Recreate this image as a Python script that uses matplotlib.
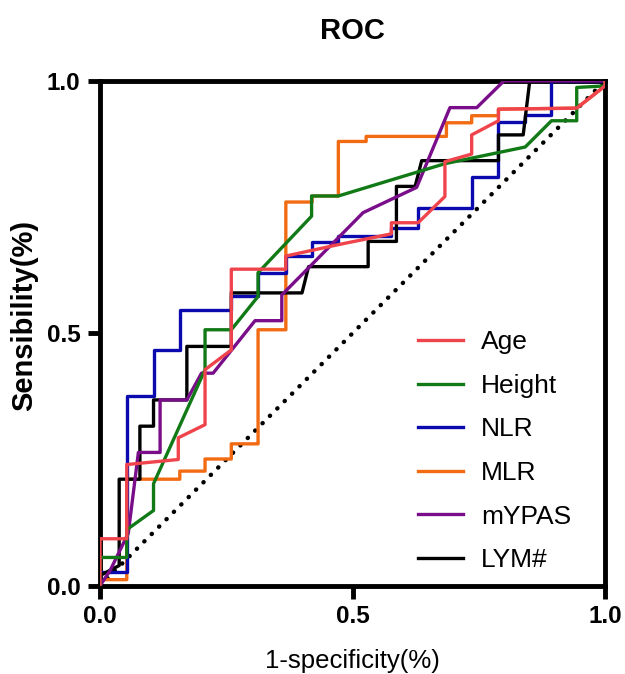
import matplotlib
matplotlib.use("Agg")
import matplotlib.pyplot as plt

plt.rcParams['font.family'] = ['Liberation Sans', 'DejaVu Sans']

# ROC curves (x = 1-specificity, y = sensibility)
age_x = [0, 0, 0.053, 0.053, 0.155, 0.155, 0.208, 0.208, 0.26, 0.26, 0.368, 0.368, 0.469, 0.577, 0.577, 0.63, 0.683, 0.683, 0.736, 0.736, 0.789, 0.789, 0.944, 1.0, 1.0]
age_y = [0, 0.093, 0.093, 0.24, 0.25, 0.293, 0.319, 0.428, 0.467, 0.627, 0.627, 0.653, 0.675, 0.697, 0.719, 0.719, 0.771, 0.84, 0.855, 0.893, 0.921, 0.944, 0.946, 0.99, 1.0]

height_x = [0, 0, 0.053, 0.053, 0.106, 0.106, 0.208, 0.208, 0.26, 0.313, 0.313, 0.419, 0.419, 0.472, 0.683, 0.842, 0.894, 0.944, 0.944, 1.0, 1.0]
height_y = [0, 0.056, 0.056, 0.111, 0.149, 0.202, 0.428, 0.507, 0.507, 0.573, 0.62, 0.732, 0.772, 0.772, 0.836, 0.869, 0.921, 0.921, 0.987, 0.99, 1.0]

nlr_x = [0, 0, 0.053, 0.053, 0.106, 0.106, 0.158, 0.158, 0.26, 0.26, 0.313, 0.313, 0.368, 0.368, 0.42, 0.42, 0.472, 0.472, 0.577, 0.577, 0.63, 0.63, 0.736, 0.736, 0.789, 0.789, 0.842, 0.842, 0.894, 0.894, 1.0]
nlr_y = [0, 0.028, 0.028, 0.375, 0.375, 0.467, 0.467, 0.547, 0.547, 0.574, 0.574, 0.62, 0.62, 0.653, 0.653, 0.68, 0.68, 0.692, 0.692, 0.708, 0.708, 0.748, 0.748, 0.81, 0.81, 0.919, 0.919, 0.933, 0.933, 1.0, 1.0]

mlr_x = [0, 0, 0.053, 0.053, 0.158, 0.158, 0.208, 0.208, 0.26, 0.26, 0.313, 0.313, 0.368, 0.368, 0.42, 0.42, 0.472, 0.472, 0.527, 0.527, 0.686, 0.686, 0.736, 0.736, 0.789, 0.789, 0.944, 1.0, 1.0]
mlr_y = [0, 0.012, 0.012, 0.211, 0.211, 0.227, 0.227, 0.251, 0.251, 0.281, 0.281, 0.507, 0.507, 0.76, 0.76, 0.772, 0.772, 0.88, 0.88, 0.89, 0.89, 0.917, 0.917, 0.931, 0.931, 0.944, 0.946, 0.99, 1.0]

mypas_x = [0, 0.02, 0.056, 0.076, 0.119, 0.119, 0.172, 0.201, 0.224, 0.307, 0.36, 0.36, 0.521, 0.627, 0.693, 0.746, 0.8, 1.0]
mypas_y = [0, 0.03, 0.104, 0.264, 0.264, 0.368, 0.368, 0.421, 0.421, 0.525, 0.525, 0.576, 0.739, 0.789, 0.947, 0.947, 1.0, 1.0]

lym_x = [0, 0, 0.038, 0.038, 0.079, 0.079, 0.106, 0.106, 0.172, 0.172, 0.26, 0.26, 0.40, 0.413, 0.531, 0.531, 0.587, 0.587, 0.624, 0.637, 0.789, 0.789, 0.838, 0.851, 1.0]
lym_y = [0, 0.02, 0.04, 0.211, 0.211, 0.316, 0.316, 0.368, 0.368, 0.474, 0.474, 0.58, 0.58, 0.632, 0.632, 0.682, 0.682, 0.791, 0.791, 0.842, 0.842, 0.893, 0.893, 1.0, 1.0]

ref_x = [0, 1]
ref_y = [0, 1]

fig = plt.figure(figsize=(6.25, 6.74), dpi=100)
ax = fig.add_axes([0.16, 0.131, 0.808, 0.749])

lw = 2.4
ax.plot(ref_x, ref_y, color='black', lw=3.2, linestyle=(0, (0.05, 2.3)),
        dash_capstyle='round', zorder=1)
l_mlr, = ax.plot(mlr_x, mlr_y, color='#F26A12', lw=lw, label='MLR', zorder=2)
l_nlr, = ax.plot(nlr_x, nlr_y, color='#0A0AAE', lw=lw, label='NLR', zorder=3)
l_lym, = ax.plot(lym_x, lym_y, color='black', lw=lw, label='LYM#', zorder=4)
l_myp, = ax.plot(mypas_x, mypas_y, color='#7A0D8A', lw=lw, label='mYPAS', zorder=5)
l_hgt, = ax.plot(height_x, height_y, color='#117A17', lw=lw, label='Height', zorder=6)
l_age, = ax.plot(age_x, age_y, color='#F0444C', lw=lw, label='Age', zorder=7)

ax.set_xlim(0, 1)
ax.set_ylim(0, 1)
ax.set_xticks([0, 0.5, 1.0])
ax.set_yticks([0, 0.5, 1.0])
ax.set_xticklabels(['0.0', '0.5', '1.0'])
ax.set_yticklabels(['0.0', '0.5', '1.0'])
for s in ax.spines.values():
    s.set_linewidth(3.5)
ax.tick_params(width=3.5, length=9, labelsize=17.5, pad=5)
for t in ax.get_xticklabels() + ax.get_yticklabels():
    t.set_fontweight('bold')

ax.set_title('ROC', fontsize=21, fontweight='bold', pad=30)
ax.set_xlabel('1-specificity(%)', fontsize=18.5, labelpad=15)
ax.set_ylabel('Sensibility(%)', fontsize=21, fontweight='bold')
ax.yaxis.set_label_coords(-0.123, 0.535)

ax.legend(handles=[l_age, l_hgt, l_nlr, l_mlr, l_myp, l_lym],
          loc='lower left', bbox_to_anchor=(0.582, -0.02), frameon=False,
          fontsize=19, handlelength=1.7, handletextpad=0.7, labelspacing=0.74)

fig.savefig('out.png', dpi=100)
